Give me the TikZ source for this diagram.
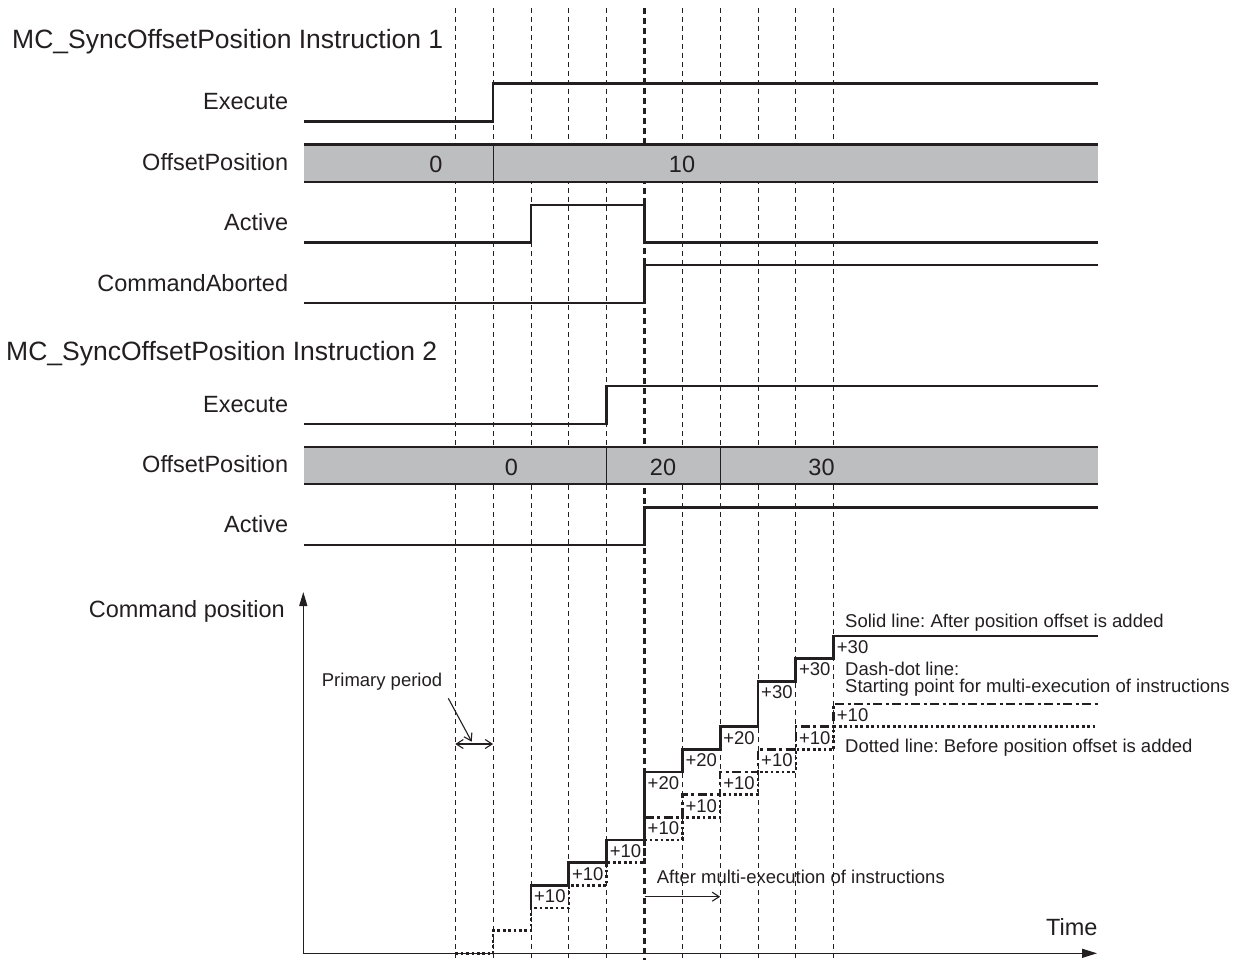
\documentclass[tikz,border=0pt]{standalone}
\usepackage{fontspec}
\setmainfont{Liberation Sans}
\usetikzlibrary{arrows.meta}
\definecolor{barfill}{RGB}{188,190,192}
\definecolor{ink}{RGB}{35,31,32}
\frenchspacing
\begin{document}
\begin{tikzpicture}[x=1pt,y=-1pt,
  sig/.style={line width=2.6pt,draw=ink,line join=miter},
  gridln/.style={line width=0.9pt,draw=ink,dash pattern=on 5pt off 4pt},
  gridbold/.style={line width=2.4pt,draw=ink,dash pattern=on 6pt off 4pt},
  barline/.style={line width=2.5pt,draw=ink},
  divline/.style={line width=1.2pt,draw=ink},
  ttl/.style={font=\fontsize{26.5}{31}\selectfont,anchor=base west,inner sep=0pt,text=ink},
  lbl/.style={font=\fontsize{23.5}{28}\selectfont,anchor=base east,inner sep=0pt,text=ink},
  val/.style={font=\fontsize{23.5}{28}\selectfont,anchor=base,inner sep=0pt,text=ink},
  note/.style={font=\fontsize{18.5}{22}\selectfont,anchor=base west,inner sep=0pt,text=ink},
  inc/.style={font=\fontsize{18.5}{22}\selectfont,anchor=base west,inner sep=0pt,text=ink,xshift=3pt,yshift=-17.4pt},
  solidln/.style={line width=2.8pt,draw=ink,line join=miter},
  dotln/.style={line width=2.6pt,draw=ink,dash pattern=on 2.7pt off 2.7pt},
  dashdotln/.style={line width=2.6pt,draw=ink,dash pattern=on 9pt off 3.5pt on 3pt off 3.5pt},
  axisln/.style={line width=1.3pt,draw=ink},
  thinarr/.style={line width=1.1pt,draw=ink,-{Straight Barb[length=7pt,width=9pt]}},
  dblarr/.style={line width=1.1pt,draw=ink,{Straight Barb[length=7pt,width=9pt]}-{Straight Barb[length=7pt,width=9pt]}},
]
\useasboundingbox (0,0) rectangle (1247,960);

% vertical grid
\foreach \k in {0,1,2,3,4,6,7,8,9,10}{
  \draw[gridln] ({455.3+37.84*\k},8) -- ({455.3+37.84*\k},960);
}
\draw[gridbold] (644.5,8) -- (644.5,960);

% ---------- Instruction 1 ----------
\node[ttl] (t1) at (12,48.3) {MC\_SyncOffsetPosition Instruction 1};
\node[lbl] (exe1) at (288.3,109.3) {Execute};
\node[lbl] (off1) at (288.3,170.7) {OffsetPosition};
\node[lbl] (act1) at (288.3,230) {Active};
\node[lbl] (cab1) at (288.3,291) {CommandAborted};

\draw[sig] (304,121.3) -- (493.14,121.3) -- (493.14,83.3) -- (1098,83.3);
\fill[barfill] (304,144.7) rectangle (1098,182);
\draw[barline] (304,144.7) -- (1098,144.7);
\draw[barline] (304,182) -- (1098,182);
\draw[divline] (493.14,144.7) -- (493.14,182);
\node[val] (o1a) at (436,172.7) {0};
\node[val] (o1b) at (682,172.7) {10};
\draw[sig] (304,242.7) -- (530.98,242.7) -- (530.98,205) -- (644.5,205) -- (644.5,242.7) -- (1098,242.7);
\draw[sig] (304,303) -- (644.5,303) -- (644.5,265) -- (1098,265);

% ---------- Instruction 2 ----------
\node[ttl] (t2) at (6,360.7) {MC\_SyncOffsetPosition Instruction 2};
\node[lbl] (exe2) at (288.3,412) {Execute};
\node[lbl] (off2) at (288.3,472.3) {OffsetPosition};
\node[lbl] (act2) at (288.3,532.3) {Active};

\draw[sig] (304,424) -- (606.66,424) -- (606.66,386) -- (1098,386);
\fill[barfill] (304,447) rectangle (1098,484);
\draw[barline] (304,447) -- (1098,447);
\draw[barline] (304,484) -- (1098,484);
\draw[divline] (606.66,447) -- (606.66,484);
\draw[divline] (720.18,447) -- (720.18,484);
\node[val] (o2a) at (511.5,475) {0};
\node[val] (o2b) at (663,475) {20};
\node[val] (o2c) at (821.5,475) {30};
\draw[sig] (304,545) -- (644.5,545) -- (644.5,507.3) -- (1098,507.3);

% ---------- Command position graph ----------
\node[lbl] (cpos) at (285,617.3) {Command position};
\node[lbl,anchor=base west] (time) at (1046,935) {Time};
\coordinate (O) at (303.3,953.3);
\coordinate (ytip) at (303.3,592);
\coordinate (xtip) at (1097,953.3);
\draw[axisln,-{Triangle[length=14pt,width=8pt]}] (O) -- (ytip);
\draw[axisln,-{Triangle[length=15pt,width=9pt]}] (O) -- (xtip);

\begin{scope}[shift={(455.3,953.3)},x=37.84pt,y=22.67pt]
  \draw[dotln] (0,0) -- (1,0) -- (1,1) -- (2,1) -- (2,2) -- (3,2) -- (3,3) -- (4,3) -- (4,4) -- (5,4) -- (5,5) -- (6,5) -- (6,6) -- (7,6) -- (7,7) -- (8,7) -- (8,8) -- (9,8) -- (9,9) -- (10,9) -- (10,10) -- (16.98,10);
  \draw[dashdotln] (5,6) -- (6,6) -- (6,7) -- (7,7) -- (7,8) -- (8,8) -- (8,9) -- (9,9) -- (9,10) -- (10,10) -- (10,11) -- (16.98,11);
  \draw[solidln] (2,2) -- (2,3) -- (3,3) -- (3,4) -- (4,4) -- (4,5) -- (5,5) -- (5,8) -- (6,8) -- (6,9) -- (7,9) -- (7,10) -- (8,10) -- (8,12) -- (9,12) -- (9,13) -- (10,13) -- (10,14) -- (16.98,14);
  \node[inc] (a1) at (2,3) {+10};
  \node[inc] (a2) at (3,4) {+10};
  \node[inc] (a3) at (4,5) {+10};
  \node[inc] (a4) at (5,6) {+10};
  \node[inc] (b4) at (5,8) {+20};
  \node[inc] (a5) at (6,7) {+10};
  \node[inc] (b5) at (6,9) {+20};
  \node[inc] (a6) at (7,8) {+10};
  \node[inc] (b6) at (7,10) {+20};
  \node[inc] (a7) at (8,9) {+10};
  \node[inc] (b7) at (8,12) {+30};
  \node[inc] (a8) at (9,10) {+10};
  \node[inc] (b8) at (9,13) {+30};
  \node[inc] (a9) at (10,11) {+10};
  \node[inc] (b9) at (10,14) {+30};
\end{scope}

\node[note] (n1) at (845,627) {Solid line: After position offset is added};
\node[note] (n2) at (845,675) {Dash-dot line:};
\node[note] (n3) at (845,692.7) {Starting point for multi-execution of instructions};
\node[note] (n4) at (845,752.3) {Dotted line: Before position offset is added};
\node[note] (n5) at (656.7,883.3) {After multi-execution of instructions};
\node[note] (pp) at (321.7,686.7) {Primary period};

\coordinate (ppA) at (448.3,698.3);
\coordinate (ppB) at (471.7,741.7);
\draw[thinarr] (ppA) -- (ppB);
\coordinate (per0) at (455.3,744);
\coordinate (per1) at (493.14,744);
\draw[dblarr] (per0) -- (per1);
\coordinate (am0) at (644.5,896.7);
\coordinate (am1) at (720.18,896.7);
\draw[thinarr] (am0) -- (am1);
\end{tikzpicture}
\end{document}
